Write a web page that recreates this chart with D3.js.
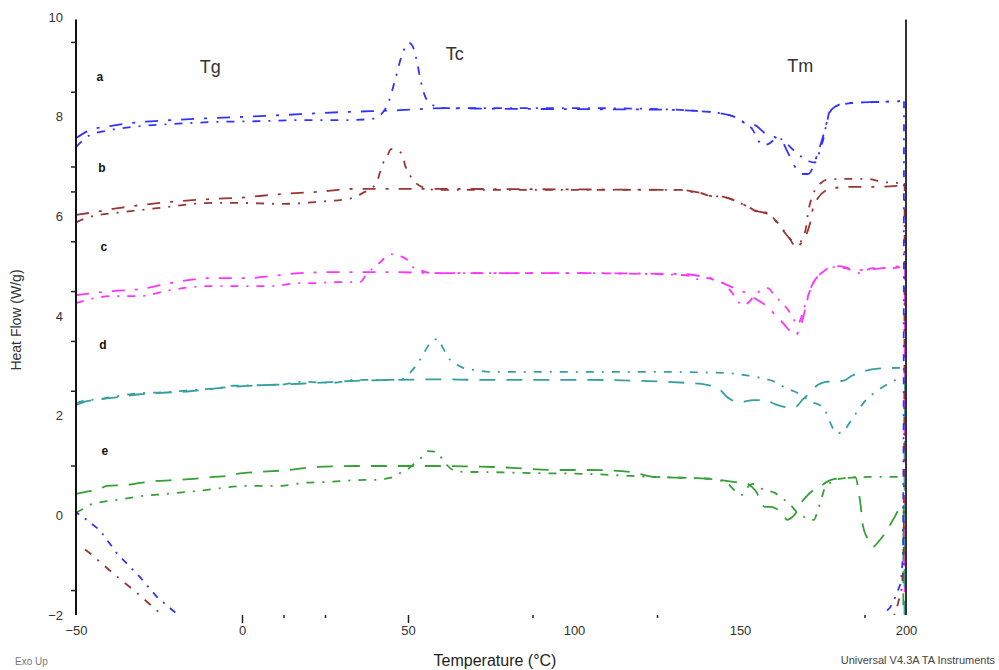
<!DOCTYPE html>
<html><head><meta charset="utf-8">
<script src="https://cdn.jsdelivr.net/npm/d3@7"></script>
<style>body{margin:0;background:#fff}svg{display:block}text{font-family:"Liberation Sans",Arial,sans-serif}</style>
</head><body><svg id="c" width="999" height="670"></svg>
<script>
// ---- data (Temperature °C, Heat Flow W/g) ----
const aT1=[-50,-45.8,-39.8,-30.7,-21.7,-9.6,5.4,17.5,29.5,38.6,41.6,44,46.1,48.2,50.3,51.5,52.7,53.9,55.4,57.5,61.1,75,105,126,138,144,148.5,151.5,153.9,155.4,157.2,159,161.1,163,165,167,169,171,172.6,173.5,174.1,175,175.6,176.2,176.8,178,180,185,190,198.2];
const aH1=[7.39,7.63,7.73,7.81,7.85,7.89,7.91,7.93,7.93,7.95,8.03,8.27,8.73,9.24,9.48,9.40,9.10,8.70,8.37,8.23,8.17,8.17,8.17,8.15,8.11,8.07,7.99,7.87,7.73,7.53,7.43,7.47,7.57,7.53,7.40,7.28,7.17,7.10,7.08,7.19,7.36,7.52,7.72,7.88,8.07,8.17,8.23,8.28,8.29,8.31];
const aT2=[-50,-45.8,-39.8,-30.7,-21.7,-9.6,5.4,17.5,29.5,38.6,47.6,61.1,75,105,126,138,144,148.5,151.5,154.5,157.5,160.5,163,164.5,166.6,168.1,170.5,172,173.5,174.7,175.9,177.1,178.9,181.6,189.2,198.2];
const aH2=[7.57,7.73,7.81,7.89,7.93,7.97,8.01,8.05,8.09,8.11,8.13,8.17,8.16,8.15,8.14,8.11,8.07,7.99,7.87,7.83,7.67,7.59,7.47,7.27,6.99,6.85,6.85,6.99,7.29,7.53,7.83,8.09,8.21,8.27,8.29,8.31];
const aCT=[199.4,199.3,199.1,198.5,197.6,196.7,195.2,193.7,190,-15,-19.9,-25.6,-30.7,-37.7,-42.8,-47,-50];
const aCH=[8.31,2,-0.8,-1.35,-1.5,-1.65,-1.85,-1.95,-2.3,-2.3,-1.96,-1.64,-1.24,-0.76,-0.3,-0.08,0.06];

const bT1=[-50,-45.8,-35.2,-24.7,-8.7,-1.5,12.3,22.6,33.4,36.4,38.6,40.5,41.6,42.5,43.7,44.6,44.9,47.6,48.5,49.1,50,50.9,54.2,58.7,80,110,132,135,138,141,144.9,148,150.6,153,155.4,158.4,160.5,162.5,164.1,165,165.7,166.6,167.5,169,169.9,170.5,171.4,172.6,174.4,175.9,181,188.5,193,197.6];
const bH1=[5.88,5.99,6.09,6.17,6.27,6.27,6.25,6.29,6.37,6.47,6.55,6.67,6.89,7.07,7.19,7.33,7.35,7.29,7.19,7.03,6.89,6.79,6.59,6.53,6.53,6.53,6.53,6.49,6.47,6.41,6.39,6.33,6.25,6.17,6.09,6.07,5.93,5.78,5.63,5.56,5.47,5.42,5.45,5.58,5.78,6.07,6.33,6.53,6.67,6.73,6.75,6.75,6.69,6.67];
const bT2=[-50,-45.8,-36.7,-24.7,-8.7,-1.5,12.3,22.6,33.4,38.6,60,100,132,138,141,145,150,155,159,162,165,167.5,168.3,169.9,171.1,172,173.5,175.6,178.6,183,190,197.6];
const bH2=[6.03,6.07,6.17,6.27,6.35,6.37,6.45,6.49,6.55,6.55,6.55,6.54,6.53,6.47,6.41,6.39,6.27,6.11,6.03,5.80,5.55,5.42,5.45,5.62,5.86,6.17,6.37,6.51,6.57,6.59,6.59,6.61];
const bCT=[199.6,199.5,199.3,198.6,197.6,196.7,194,-20,-24.1,-31.6,-38.9,-45.8,-48.2];
const bCH=[6.67,2,-1.0,-1.5,-1.77,-1.97,-2.3,-2.3,-2.0,-1.56,-1.16,-0.76,-0.64];

const cT1=[-50,-38.9,-30.7,-21.7,-9.6,2.4,8.4,17.5,22.6,27.4,35.5,37.7,39.5,41.6,44.9,50,51.5,53.6,55.4,57.5,73.2,100,133.4,137,140.4,143.4,145.5,147,148.8,150.6,152.4,154.2,156.6,158.4,160.5,162.7,164.5,166,167.2,168.4,169.6,170.8,172,173.5,175.3,177.1,181.6,186.1,189.8,196,198.2];
const cH1=[4.26,4.40,4.40,4.52,4.60,4.60,4.60,4.66,4.66,4.68,4.68,4.86,4.96,5.08,5.24,5.12,4.98,4.92,4.88,4.86,4.86,4.86,4.82,4.74,4.76,4.69,4.64,4.52,4.36,4.22,4.26,4.40,4.52,4.56,4.40,4.26,4.12,3.96,3.82,3.96,4.22,4.46,4.66,4.80,4.90,4.98,4.96,4.86,4.96,4.96,4.98];
const cT2=[-50,-38.9,-30.7,-21.7,-9.6,2.4,8.4,17.5,27.4,35.5,45,60,100,133,138,143,145.5,147.6,150,152.4,154.8,157.2,159,161.1,162.9,165,166.6,167.8,169,169.9,170.8,172,173.5,175.3,177.1,180,185,190,198.2];
const cH2=[4.42,4.50,4.54,4.66,4.76,4.76,4.80,4.86,4.88,4.88,4.88,4.86,4.86,4.84,4.80,4.72,4.64,4.58,4.52,4.44,4.34,4.24,4.14,3.98,3.86,3.70,3.60,3.72,3.96,4.22,4.46,4.66,4.80,4.90,4.98,5.0,4.92,4.94,5.0];
const cCT=[199.7,199.6,199.6];
const cCH=[5.0,3,-2.5];

const dT1=[-50,-46.7,-42.8,-39.8,-35.8,-30.7,-24.1,-15.7,-6.6,-2.7,11.4,17.5,27.4,34,42.5,47.6,50.6,53,54.5,55.7,56.9,59,60.5,62.7,64.8,66.6,69.6,74.7,83.7,120,144.9,150.6,156,161.1,163.6,167.2,169.6,171.7,174.1,175.6,177.1,179.2,181,183.1,185.2,187.9,191.6,195.2,198.2];
const dH1=[2.25,2.31,2.33,2.37,2.41,2.45,2.47,2.51,2.56,2.60,2.62,2.68,2.66,2.72,2.72,2.72,2.86,3.06,3.22,3.36,3.48,3.54,3.36,3.12,3.02,2.96,2.92,2.88,2.88,2.88,2.86,2.82,2.76,2.66,2.56,2.46,2.36,2.27,2.21,2.11,1.87,1.65,1.67,1.87,2.07,2.31,2.51,2.66,2.76];
const dT2=[-50,-46.7,-39.8,-30.7,-15.7,-2.7,17.5,34,47.6,60,70,100,133.4,140,144,146,147.6,150,154,157.8,159.9,161.4,164.5,166.6,168.7,171.1,173.5,175.9,181,183.7,186.7,190.7,198.2];
const dH2=[2.21,2.29,2.35,2.43,2.49,2.58,2.64,2.70,2.72,2.73,2.72,2.72,2.66,2.62,2.52,2.38,2.31,2.27,2.31,2.31,2.25,2.21,2.17,2.17,2.31,2.47,2.62,2.68,2.70,2.80,2.88,2.94,2.96];
const dCT=[199.7,199.6,199.6];
const dCH=[2.78,1,-2.5];

const eT1=[-50,-47.3,-45.8,-41.9,-37.7,-33.7,-29.8,-22.6,-16.6,-10.5,-6,2.1,11.4,18.4,25.6,37,39.2,44.6,47.6,50,52.1,54.2,56,58.7,60.5,61.7,63.6,67.2,70.8,85,104.5,117,124,135,141,144.6,146.1,147.6,149.1,150.6,152.1,153.9,157.2,160.5,162.7,164.5,166.6,168.7,170.8,172.3,173.2,174.7,175.6,176.2,178,180,183,190,198.5];
const eH1=[0.05,0.15,0.21,0.27,0.31,0.35,0.39,0.43,0.47,0.51,0.55,0.59,0.59,0.65,0.67,0.71,0.71,0.75,0.85,0.93,1.05,1.17,1.29,1.27,1.11,1.01,0.91,0.87,0.87,0.85,0.83,0.79,0.77,0.75,0.73,0.69,0.65,0.55,0.45,0.41,0.55,0.63,0.51,0.45,0.33,0.27,0.10,0.0,-0.09,-0.09,0.05,0.37,0.55,0.57,0.71,0.73,0.76,0.77,0.77];
const eT2=[-50,-45.5,-42.8,-40.7,-34.6,-30.7,-25.6,-19.3,-8.4,-4.5,-1.5,5.1,14.2,22,35,43.7,61,69.6,76,95,104.5,117,124,135,142,144,148,151.5,153.6,155.1,156,157.5,159.3,161,162.7,164.2,165.5,166.9,168.4,169.9,171.4,172.6,177.4,178.6,182,184.8,185.8,186.4,187,188.6,190,192.2,194.3,196.1,198.2,199];
const eH2=[0.43,0.49,0.53,0.59,0.61,0.65,0.69,0.71,0.77,0.79,0.83,0.87,0.91,0.97,0.99,0.99,0.99,0.98,0.97,0.91,0.91,0.87,0.77,0.75,0.73,0.71,0.67,0.65,0.57,0.45,0.31,0.17,0.17,0.13,0.05,-0.09,-0.05,0.05,0.25,0.37,0.47,0.51,0.71,0.73,0.75,0.76,0.45,0.17,-0.2,-0.49,-0.63,-0.49,-0.29,-0.09,0.15,0.2];
const eCT=[199.3,199.2,199.2];
const eCH=[0.2,-0.5,-2.5];

const yLabels=[10,8,6,4,2,0,-2];
const yMinor=[9.5,8.5,7,6.5,5.5,4.5,3.5,2.5,1,-1.5];
const xLabels=[-50,0,50,100,150,200];
const xMajor=[0,50];
const xMinor=[12.5,25,87.5,125,187.5];
const sampleNames=["a","b","c","d","e"];
const sampleT=[-42.8,-42.2,-41.6,-41.9,-41.3];
const sampleH=[8.80,6.97,5.38,3.42,1.29];
const transNames=["Tg","Tc","Tm"];
const transT=[-12.7,61.4,164.2];
const transH=[8.88,9.14,8.90];

// ---- drawing ----
const svg=d3.select("#c");
const x=d3.scaleLinear().domain([-50,200]).range([76,906]);
const y=d3.scaleLinear().domain([-2,10]).range([615,17]);
const zip=(T,H)=>T.map((t,i)=>[t,H[i]]);

svg.append("defs").append("clipPath").attr("id","plot").append("rect")
  .attr("x",x(-50)).attr("y",y(10)).attr("width",x(200)-x(-50)).attr("height",y(-2)-y(10));

const col={a:"#3333ff",b:"#9b3535",c:"#ff33ff",d:"#35a0a0",e:"#35a035"};
const series=[
  {T:aT2,H:aH2,c:col.a,dash:"13,10,3,10",curve:true},
  {T:aT1,H:aH1,c:col.a,dash:"8,8,2,8",curve:true},
  {T:bT2,H:bH2,c:col.b,dash:"13,10,3,10",curve:true},
  {T:bT1,H:bH1,c:col.b,dash:"8,8,2,8",curve:true},
  {T:cT2,H:cH2,c:col.c,dash:"13,10,3,10",curve:true},
  {T:cT1,H:cH1,c:col.c,dash:"8,8,2,8",curve:true},
  {T:dT2,H:dH2,c:col.d,dash:"16,11",curve:true},
  {T:dT1,H:dH1,c:col.d,dash:"8,8,2,8",curve:true},
  {T:eT2,H:eH2,c:col.e,dash:"16,11",curve:true},
  {T:eT1,H:eH1,c:col.e,dash:"8,8,2,8",curve:true},
  {T:cCT,H:cCH,c:col.c,dash:"14,12",curve:false},
  {T:dCT,H:dCH,c:col.d,dash:"18,14",curve:false},
  {T:eCT,H:eCH,c:col.e,dash:"12,10",curve:false},
  {T:bCT,H:bCH,c:col.b,dash:"8,8,2,8",curve:false},
  {T:aCT,H:aCH,c:col.a,dash:"7,7,2,7",curve:false}
];
const g=svg.append("g").attr("clip-path","url(#plot)");
series.forEach(s=>{
  const line=d3.line().x(d=>x(d[0])).y(d=>y(d[1])).curve(s.curve?d3.curveMonotoneX:d3.curveLinear);
  g.append("path").attr("d",line(zip(s.T,s.H))).attr("fill","none")
   .attr("stroke",s.c).attr("stroke-width",1.8).attr("stroke-dasharray",s.dash);
});

// frame lines
svg.append("line").attr("x1",x(-50)).attr("x2",x(-50)).attr("y1",y(9.95)).attr("y2",y(-2)).attr("stroke","#111").attr("stroke-width",2);
svg.append("line").attr("x1",x(200)).attr("x2",x(200)).attr("y1",y(9.95)).attr("y2",y(-2)).attr("stroke","#333").attr("stroke-width",2);

// y axis labels (no tick) and minor ticks
const yl=svg.append("g").attr("transform",`translate(${x(-50)},0)`)
  .call(d3.axisLeft(y).tickValues(yLabels).tickSize(0).tickPadding(13).tickFormat(d3.format("d")));
yl.select(".domain").remove();
yl.selectAll("text").attr("font-size",13).attr("fill","#333").style("font-family",'"Liberation Sans",Arial,sans-serif');
const ym=svg.append("g").attr("transform",`translate(${x(-50)},0)`)
  .call(d3.axisLeft(y).tickValues(yMinor).tickSize(5).tickFormat(""));
ym.select(".domain").remove();
ym.selectAll("line").attr("stroke","#222").attr("stroke-width",1.5);

// x axis
const xl=svg.append("g").attr("transform",`translate(0,${y(-2)})`)
  .call(d3.axisBottom(x).tickValues(xLabels).tickSize(0).tickPadding(11).tickFormat(d3.format("d")));
xl.select(".domain").remove();
xl.selectAll("text").attr("font-size",13).attr("fill","#333").style("font-family",'"Liberation Sans",Arial,sans-serif');
const xM=svg.append("g").attr("transform",`translate(0,${y(-2)})`)
  .call(d3.axisBottom(x).tickValues(xMajor).tickSize(8).tickFormat(""));
xM.select(".domain").remove(); xM.selectAll("line").attr("stroke","#222").attr("stroke-width",1.5);
const xm=svg.append("g").attr("transform",`translate(0,${y(-2)})`)
  .call(d3.axisBottom(x).tickValues(xMinor).tickSize(3).tickFormat(""));
xm.select(".domain").remove(); xm.selectAll("line").attr("stroke","#222").attr("stroke-width",1.5);

// axis titles
svg.append("text").attr("x",495).attr("y",666).attr("text-anchor","middle").attr("font-size",16).attr("fill","#222").text("Temperature (°C)");
svg.append("text").attr("transform","translate(21,320) rotate(-90)").attr("text-anchor","middle").attr("font-size",14).attr("fill","#333").text("Heat Flow (W/g)");
svg.append("text").attr("x",15).attr("y",665).attr("font-size",10).attr("fill","#777").text("Exo Up");
svg.append("text").attr("x",995).attr("y",664).attr("text-anchor","end").attr("font-size",11).attr("fill","#444").text("Universal V4.3A TA Instruments");

// annotations
sampleNames.forEach((n,i)=>{
  svg.append("text").attr("x",x(sampleT[i])).attr("y",y(sampleH[i])).attr("dy","0.35em")
    .attr("text-anchor","middle").attr("font-size",12).attr("font-weight","bold").attr("fill","#111").text(n);
});
transNames.forEach((n,i)=>{
  svg.append("text").attr("x",x(transT[i])).attr("y",y(transH[i]))
    .attr("font-size",18).attr("fill","#333").text(n);
});
</script></body></html>
